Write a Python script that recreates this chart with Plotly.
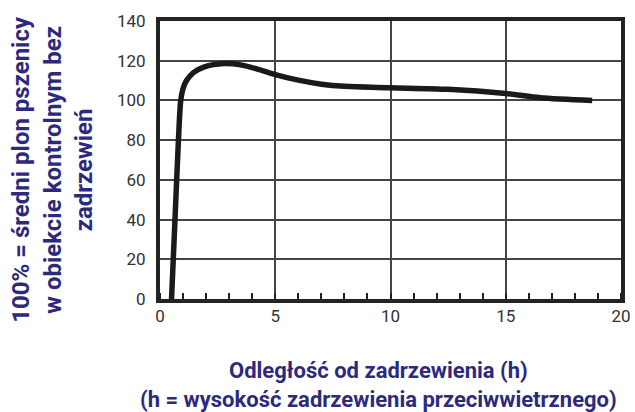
import plotly.graph_objects as go

distance_h = [0.5, 0.65, 0.8, 0.9, 1.0, 1.15, 1.45, 1.9, 2.8, 3.5, 4.3, 5.0, 6.0, 7.0, 8.0, 10, 12.5, 15, 16.5, 18.75]
yield_pct = [0, 40, 80, 100, 106, 110, 114, 116.8, 118.6, 117.9, 115.5, 113, 110.2, 108.2, 107.1, 106.4, 105.6, 103.5, 101.4, 100]
x_ticks = [0, 5, 10, 15, 20]
y_ticks = [0, 20, 40, 60, 80, 100, 120, 140]

title_color = "#2d2a7e"
tick_color = "#333333"

fig = go.Figure()
fig.add_trace(go.Scatter(
    x=distance_h, y=yield_pct, mode="lines",
    line=dict(color="#1a1a1a", width=5.5, shape="spline", smoothing=0.8),
    hoverinfo="skip", showlegend=False, cliponaxis=True,
))

fig.update_layout(
    width=635, height=412,
    margin=dict(l=160, r=14, t=21, b=113),
    paper_bgcolor="white", plot_bgcolor="white",
    font=dict(family="Roboto", size=17, color=tick_color),
)
fig.update_xaxes(
    range=[0, 20], tickvals=x_ticks, ticktext=[str(v) for v in x_ticks],
    showgrid=True, gridcolor="#444444", gridwidth=1.5,
    showline=True, mirror=True, linecolor="#222222", linewidth=4,
    ticks="", ticklabelstandoff=-1, zeroline=False, automargin=False,
    minor=dict(ticks="inside", dtick=1, ticklen=6, tickwidth=2, tickcolor="#222222", showgrid=False),
)
fig.update_yaxes(
    range=[0, 140], tickvals=y_ticks, ticktext=[str(v) for v in y_ticks],
    showgrid=True, gridcolor="#444444", gridwidth=1.5,
    showline=True, mirror=True, linecolor="#222222", linewidth=4,
    ticks="", ticklabelstandoff=7, zeroline=False, automargin=False,
)

fig.add_annotation(
    text="<b>100% = średni plon pszenicy<br>w obiekcie kontrolnym bez<br>zadrzewień</b>",
    xref="paper", yref="paper", x=-0.234, y=0.465, xanchor="center", yanchor="middle",
    textangle=-90, showarrow=False, align="center",
    font=dict(family="Roboto", size=24, color=title_color),
)
fig.add_annotation(
    text="<b>Odległość od zadrzewienia (h)<br>(h = wysokość zadrzewienia przeciwwietrznego)</b>",
    xref="paper", yref="paper", x=0.473, y=-0.205, xanchor="center", yanchor="top",
    showarrow=False, align="center",
    font=dict(family="Roboto", size=22, color=title_color),
)

fig.write_html(
    "out.html",
    config={"displayModeBar": False},
    post_script="document.body.style.margin='0';document.body.style.overflow='hidden';",
)
